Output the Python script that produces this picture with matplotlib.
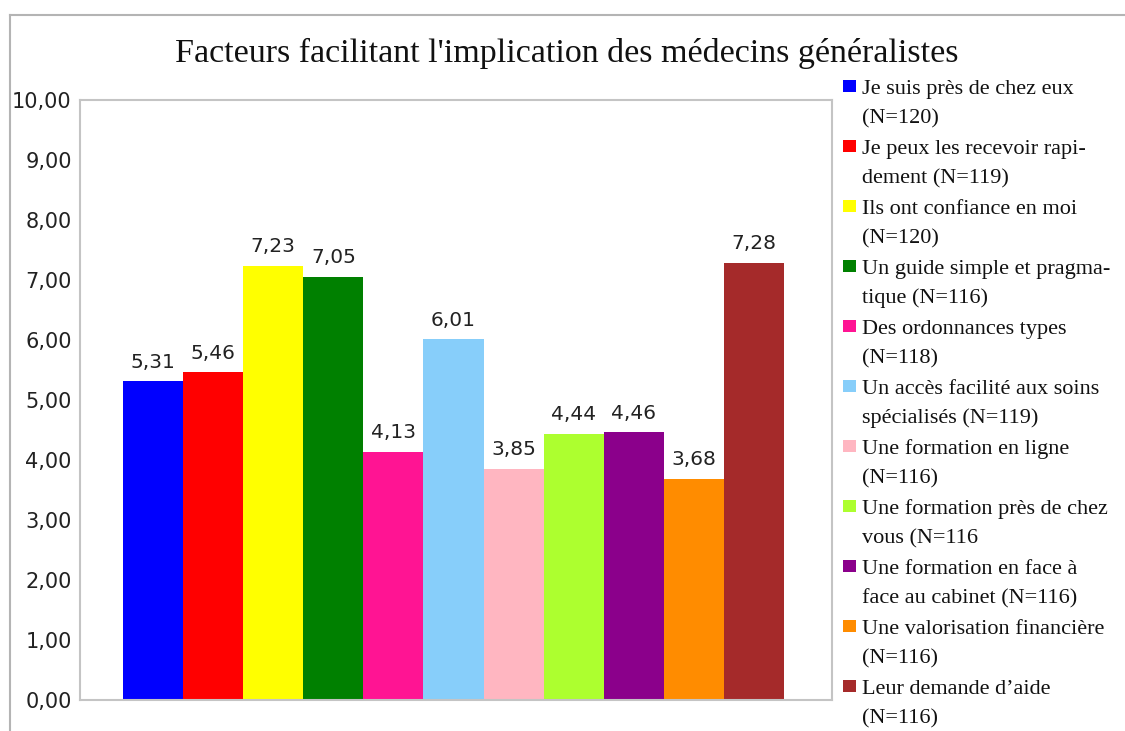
import numpy as np
import matplotlib
matplotlib.use("Agg")
import matplotlib.pyplot as plt
from matplotlib.patches import Rectangle
from matplotlib.lines import Line2D

# mean scores per factor
labels = [
    "Je suis près de chez eux\n(N=120)",
    "Je peux les recevoir rapi-\ndement (N=119)",
    "Ils ont confiance en moi\n(N=120)",
    "Un guide simple et pragma-\ntique (N=116)",
    "Des ordonnances types\n(N=118)",
    "Un accès facilité aux soins\nspécialisés (N=119)",
    "Une formation en ligne\n(N=116)",
    "Une formation près de chez\nvous (N=116",
    "Une formation en face à\nface au cabinet (N=116)",
    "Une valorisation financière\n(N=116)",
    "Leur demande d\u2019aide\n(N=116)",
]
values = [5.31, 5.46, 7.23, 7.05, 4.13, 6.01, 3.85, 4.44, 4.46, 3.68, 7.28]
colors = [
    "#0000FF", "#FF0000", "#FFFF00", "#008000", "#FF1493", "#87CEFA",
    "#FFB6C1", "#ADFF2F", "#8B008B", "#FF8C00", "#A52A2A",
]
yticks = np.arange(0, 10.01, 1.0)

W, H = 1125, 731
fig = plt.figure(figsize=(W / 100, H / 100), dpi=100)

# outer chart frame (only top and left visible in crop)
fig.add_artist(Line2D([10 / W, 10 / W], [0, 1 - 15 / H], transform=fig.transFigure,
                      color="#b4b4b4", lw=1.5))
fig.add_artist(Line2D([10 / W, 1], [1 - 15 / H, 1 - 15 / H], transform=fig.transFigure,
                      color="#b4b4b4", lw=1.5))

ax = fig.add_axes([80 / W, 31 / H, 752 / W, 600 / H])

x = np.arange(len(values))
ax.bar(x, values, width=1.0, color=colors, edgecolor="none")

for xi, v in zip(x, values):
    ax.annotate(f"{v:.2f}".replace(".", ","), (xi, v), xytext=(0, 10),
                textcoords="offset points", ha="center", va="baseline",
                fontsize=14.5, family="DejaVu Sans", color="#222222")

ax.set_ylim(0, 10)
ax.set_xlim(-0.5 - 43 / 60.1, 10.5 + 48 / 60.1)
ax.set_yticks(yticks)
ax.set_yticklabels([f"{t:.2f}".replace(".", ",") for t in yticks],
                   fontsize=15, family="DejaVu Sans", color="#222222")
ax.set_xticks([])
ax.tick_params(axis="y", length=0, pad=6)
for s in ax.spines.values():
    s.set_color("#c4c4c4")
    s.set_linewidth(1.5)

fig.text(0.504, 1 - 62 / H, "Facteurs facilitant l'implication des médecins généralistes",
         ha="center", va="baseline", fontsize=24.5, family="Liberation Serif",
         color="#111111")

# legend drawn by hand so the key square sits on the first line
for i, (lab, c) in enumerate(zip(labels, colors)):
    base = 94 + 60 * i
    fig.add_artist(Rectangle((843 / W, 1 - (base - 2) / H), 13 / W, 12 / H,
                             transform=fig.transFigure, facecolor=c, edgecolor="none"))
    for j, line in enumerate(lab.split("\n")):
        fig.text(862 / W, 1 - (base + 29.5 * j) / H, line, ha="left", va="baseline",
                 fontsize=16, family="Liberation Serif", color="#111111")

plt.savefig("out.png", dpi=100)
plt.close()
